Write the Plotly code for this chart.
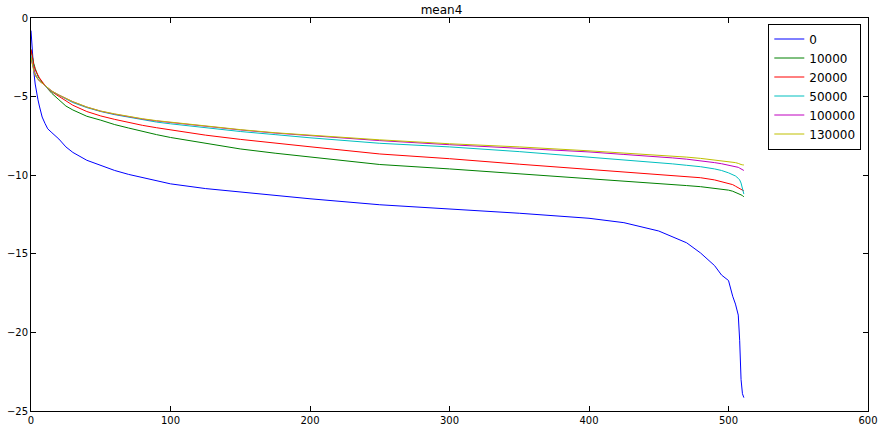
import plotly.graph_objects as go

# sample positions (index along the sorted vector)
x = [0, 1, 2, 3, 4, 5, 6, 8, 10, 12, 15, 20, 25, 30, 40, 50, 60, 70, 80, 90, 100,
     125, 150, 175, 200, 250, 300, 350, 400, 425, 450, 460, 470, 480, 490, 495,
     500, 503, 505, 507, 508, 509, 510, 511]

labels = ["0", "10000", "20000", "50000", "100000", "130000"]
colors = ["#0000ff", "#008000", "#ff0000", "#00bfbf", "#bf00bf", "#bfbf00"]

mean_0 = [-0.8, -2.2, -3.4, -4.2, -4.8, -5.2, -5.6, -6.3, -6.7, -7.05, -7.3, -7.7, -8.2, -8.55,
          -9.05, -9.4, -9.7, -9.95, -10.15, -10.38, -10.55, -10.85, -11.08, -11.3, -11.5,
          -11.88, -12.15, -12.42, -12.74, -13.02, -13.55, -13.9, -14.3, -14.95, -15.75,
          -16.35, -16.7, -17.7, -18.2, -18.9, -20.5, -23.0, -23.9, -24.15]
mean_10000 = [-2.0, -2.5, -2.9, -3.2, -3.5, -3.7, -3.85, -4.1, -4.3, -4.5, -4.8, -5.2, -5.6,
              -5.85, -6.25, -6.5, -6.78, -7.0, -7.22, -7.42, -7.6, -7.98, -8.33, -8.6, -8.85,
              -9.32, -9.6, -9.9, -10.2, -10.35, -10.53, -10.6, -10.66, -10.73, -10.83, -10.9,
              -10.95, -11.02, -11.08, -11.15, -11.2, -11.25, -11.3, -11.37]
mean_20000 = [-2.0, -2.6, -3.0, -3.3, -3.5, -3.65, -3.8, -4.05, -4.3, -4.5, -4.7, -5.0, -5.3,
              -5.55, -5.95, -6.23, -6.45, -6.65, -6.83, -6.98, -7.12, -7.45, -7.72, -7.97,
              -8.19, -8.65, -8.95, -9.3, -9.63, -9.8, -9.97, -10.02, -10.1, -10.16, -10.3,
              -10.4, -10.5, -10.6, -10.7, -10.8, -10.85, -10.9, -10.95, -11.0]
mean_50000 = [-2.4, -2.9, -3.25, -3.55, -3.75, -3.88, -3.98, -4.15, -4.33, -4.48, -4.68,
              -4.93, -5.18, -5.38, -5.7, -5.95, -6.15, -6.32, -6.48, -6.62, -6.73, -6.98,
              -7.22, -7.42, -7.62, -7.97, -8.2, -8.5, -8.85, -9.0, -9.2, -9.28, -9.37, -9.46,
              -9.6, -9.7, -9.85, -9.95, -10.05, -10.2, -10.3, -10.5, -10.9, -11.2]
mean_100000 = [-2.6, -3.0, -3.35, -3.6, -3.78, -3.9, -4.0, -4.15, -4.3, -4.45, -4.65, -4.9,
               -5.13, -5.33, -5.67, -5.93, -6.12, -6.28, -6.43, -6.55, -6.65, -6.9, -7.12,
               -7.32, -7.48, -7.8, -8.06, -8.27, -8.52, -8.68, -8.82, -8.9, -8.98, -9.07,
               -9.2, -9.27, -9.35, -9.4, -9.45, -9.5, -9.55, -9.6, -9.65, -9.7]
mean_130000 = [-2.5, -3.05, -3.4, -3.65, -3.8, -3.9, -4.0, -4.15, -4.3, -4.45, -4.65, -4.9,
               -5.12, -5.32, -5.66, -5.92, -6.1, -6.26, -6.41, -6.53, -6.63, -6.88, -7.1,
               -7.3, -7.45, -7.75, -8.0, -8.2, -8.45, -8.58, -8.72, -8.78, -8.85, -8.93,
               -9.02, -9.07, -9.12, -9.16, -9.2, -9.25, -9.3, -9.32, -9.34, -9.35]

series = [mean_0, mean_10000, mean_20000, mean_50000, mean_100000, mean_130000]

fig = go.Figure()
for name, col, ys in zip(labels, colors, series):
    fig.add_trace(go.Scatter(x=x, y=ys, mode="lines", name=name,
                             line=dict(color=col, width=1)))

axis_style = dict(showline=True, linecolor="black", linewidth=1, mirror="ticks",
                  ticks="inside", ticklen=5, tickcolor="black", showgrid=False,
                  zeroline=False, automargin=False,
                  tickfont=dict(size=10, color="black"))

fig.update_layout(
    width=883, height=433,
    paper_bgcolor="white", plot_bgcolor="white",
    margin=dict(l=31, r=15, t=18, b=22),
    font=dict(family="DejaVu Sans", color="black"),
    title=dict(text="mean4", x=0.5, xanchor="center", y=0.988, yanchor="top",
               font=dict(size=12, color="black")),
    xaxis=dict(range=[0, 600], dtick=100, **axis_style),
    yaxis=dict(range=[-25, 0], dtick=5, **axis_style),
    legend=dict(x=0.992, y=0.986, xanchor="right", yanchor="top",
                bordercolor="black", borderwidth=1, bgcolor="white",
                font=dict(size=12), tracegroupgap=0),
    showlegend=True,
)

# the page body has a default margin; drop it so the figure fills the window
fig.write_html("out.html", config={"displayModeBar": False},
               post_script="document.body.style.margin='0px';")
